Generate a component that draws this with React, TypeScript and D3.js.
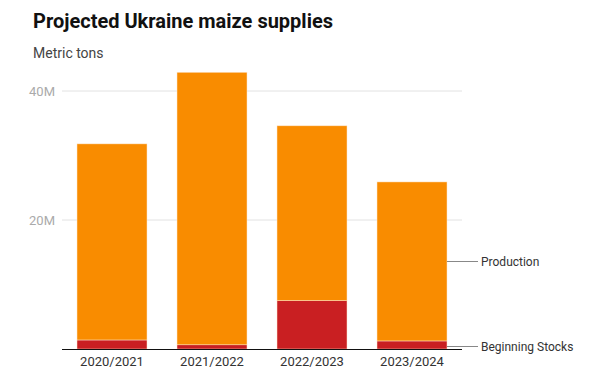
import React from "react";
import * as d3 from "d3";

const categories = ["2020/2021", "2021/2022", "2022/2023", "2023/2024"];
const beginningStocks = [1.4, 0.65, 7.5, 1.25];
const production = [30.4, 42.25, 27.1, 24.65];
const yTicks = [20, 40];
const seriesNames = ["Beginning Stocks", "Production"];
const colors = ["#C91F22", "#F98C00"];

export default function App() {
  const W = 604, H = 390;
  const x = d3.scaleBand().domain(categories).range([62, 462]).paddingInner(0.3).paddingOuter(0.15);
  const y = d3.scaleLinear().domain([0, 40]).range([349, 91]);
  const rows = categories.map((c, i) => ({ cat: c, "Beginning Stocks": beginningStocks[i], Production: production[i] }));
  const stack = d3.stack<any>().keys(seriesNames)(rows);
  const last = rows.length - 1;
  const font = "Roboto, 'Noto Sans', sans-serif";
  return (
    <svg width={W} height={H} style={{ position: "absolute", left: 0, top: 0 }} fontFamily={font}>
      <text x={33} y={28} fontSize={20} fontWeight={700} fill="#111">Projected Ukraine maize supplies</text>
      <text x={33} y={58} fontSize={14} fill="#444">Metric tons</text>
      {yTicks.map(t => (
        <g key={t}>
          <line x1={62} x2={462} y1={y(t)} y2={y(t)} stroke="#e2e2e2" strokeWidth={1} />
          <text x={55} y={y(t) + 4.5} textAnchor="end" fontSize={13} fill="#aaa">{t}M</text>
        </g>
      ))}
      {stack.map((s, si) => (
        <g key={s.key}>
          {s.map((d, i) => (
            <rect key={i} x={x(categories[i])!} width={x.bandwidth()} y={y(d[1])} height={y(d[0]) - y(d[1])}
              fill={colors[si]} stroke="#fde6cc" strokeWidth={0.5} />
          ))}
        </g>
      ))}
      <line x1={62} x2={462} y1={349.5} y2={349.5} stroke="#111" strokeWidth={1} />
      {categories.map(c => (
        <text key={c} x={x(c)! + x.bandwidth() / 2} y={366} textAnchor="middle" fontSize={13} fill="#333">{c}</text>
      ))}
      {stack.map((s, si) => {
        const d = s[last];
        const yy = Math.round(y((d[0] + d[1]) / 2)) + 0.5 + (si === 0 ? 1 : 0);
        return (
          <g key={s.key}>
            <line x1={x(categories[last])! + x.bandwidth()} x2={478} y1={yy} y2={yy} stroke="#888" strokeWidth={1} />
            <text x={481} y={yy + 4} fontSize={12} fill="#333">{s.key}</text>
          </g>
        );
      })}
    </svg>
  );
}
